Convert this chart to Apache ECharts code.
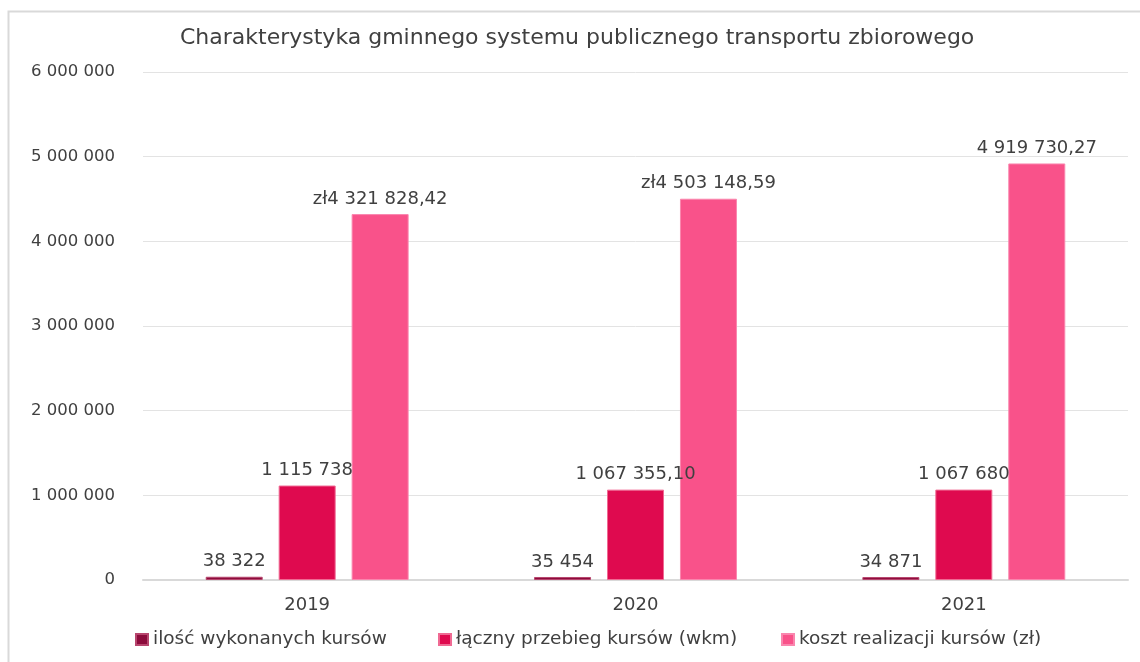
<!DOCTYPE html>
<html>
<head>
<meta charset="utf-8">
<script src="https://cdn.jsdelivr.net/npm/echarts@6/dist/echarts.min.js"></script>
<style>
html,body{margin:0;padding:0;background:#fff;}
#c{width:1140px;height:662px;}
</style>
</head>
<body>
<div id="c"></div>
<script>
const categories = ['2019', '2020', '2021'];
const seriesNames = ['ilość wykonanych kursów', 'łączny przebieg kursów (wkm)', 'koszt realizacji kursów (zł)'];
const kursy = [38322, 35454, 34871];
const przebieg = [1115738, 1067355.10, 1067680];
const koszt = [4321828.42, 4503148.59, 4919730.27];
const kursyLabels = ['38 322', '35 454', '34 871'];
const przebiegLabels = ['1 115 738', '1 067 355,10', '1 067 680'];
const kosztLabels = ['zł4 321 828,42', 'zł4 503 148,59', '4 919 730,27'];
const yTicks = ['0', '1 000 000', '2 000 000', '3 000 000', '4 000 000', '5 000 000', '6 000 000'];

const colors = ['#8C0C3C', '#DF0A4F', '#F9528A'];
const borders = ['#B8466E', '#F06A93', '#FA86AE'];
const labelFont = {fontFamily: 'DejaVu Sans', fontSize: 18, color: '#404040'};
const legendLefts = [135, 438, 781];

function mk(i, data, labels) {
  return {
    name: seriesNames[i],
    type: 'bar',
    data: data,
    barWidth: 57,
    barGap: '28%',
    itemStyle: {color: colors[i], borderColor: borders[i], borderWidth: 1},
    label: Object.assign({
      show: true, position: 'top', distance: 6,
      formatter: p => labels[p.dataIndex]
    }, labelFont)
  };
}

const chart = echarts.init(document.getElementById('c'));
chart.setOption({
  animation: false,
  backgroundColor: '#fff',
  graphic: [{
    type: 'rect', shape: {x: 8.5, y: 11.5, width: 1200, height: 700},
    style: {fill: 'none', stroke: '#d9d9d9', lineWidth: 2}, silent: true, z: -1
  }],
  title: {
    text: 'Charakterystyka gminnego systemu publicznego transportu zbiorowego',
    left: 175, top: 22,
    textStyle: {fontFamily: 'DejaVu Sans', fontWeight: 'normal', fontSize: 22, color: '#404040'}
  },
  grid: {left: 143, right: 12, top: 72, bottom: 82},
  legend: seriesNames.map((n, i) => ({
    bottom: 13, left: legendLefts[i], padding: 0,
    itemWidth: 12, itemHeight: 11, icon: 'rect',
    textStyle: {fontFamily: 'DejaVu Sans', fontSize: 18.5, color: '#404040'},
    data: [n]
  })),
  xAxis: {
    type: 'category', data: categories,
    axisLine: {lineStyle: {color: '#d9d9d9', width: 2}},
    axisTick: {show: false},
    axisLabel: {fontFamily: 'DejaVu Sans', fontSize: 18, color: '#404040', margin: 16}
  },
  yAxis: {
    type: 'value', min: 0, max: 6000000, interval: 1000000,
    axisLine: {show: false}, axisTick: {show: false},
    splitLine: {lineStyle: {color: '#e3e3e3', width: 1}},
    axisLabel: {
      fontFamily: 'DejaVu Sans', fontSize: 16.5, color: '#404040', margin: 28,
      formatter: (v) => yTicks[Math.round(v / 1000000)]
    }
  },
  series: [mk(0, kursy, kursyLabels), mk(1, przebieg, przebiegLabels), mk(2, koszt, kosztLabels)]
});
</script>
</body>
</html>
